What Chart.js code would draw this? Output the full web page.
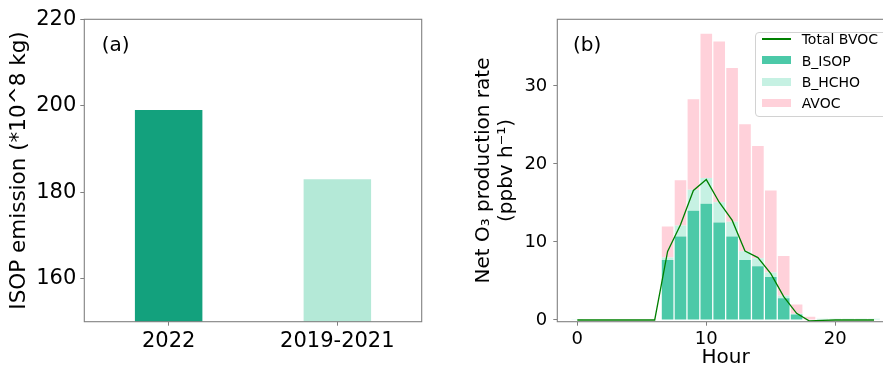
<!DOCTYPE html>
<html><head><meta charset="utf-8">
<script src="https://cdn.jsdelivr.net/npm/chart.js@4.4.0/dist/chart.umd.min.js"></script>
<style>
html,body{margin:0;padding:0;width:883px;height:369px;overflow:hidden;background:#fff;font-family:"DejaVu Sans",sans-serif;}
canvas{position:absolute;top:0;}
#cA{left:0;}
#cB{left:460px;}
.lbl{position:absolute;font-size:20px;line-height:20px;color:#000;white-space:nowrap;}
#legend{position:absolute;left:755px;top:31.7px;width:150px;height:85px;border:1px solid #d2d2d2;border-radius:4px;background:rgba(255,255,255,0.8);box-sizing:border-box;}
.lg{position:absolute;font-size:14px;line-height:14px;color:#000;white-space:nowrap;}
.hd{position:absolute;left:762px;width:29px;}
</style>
</head><body>
<canvas id="cA" width="460" height="369"></canvas>
<canvas id="cB" width="460" height="369"></canvas>
<div class="lbl" style="left:101.7px;top:33.5px;">(a)</div>
<div class="lbl" style="left:573px;top:33.6px;">(b)</div>
<div id="legend"></div>
<script>
// ---- Panel (a) data ----
const categoriesA = ['2022', '2019-2021'];
const emissionA = [199, 183];
const yTicksA = [160, 180, 200, 220];

// ---- Panel (b) data ----
const hours = [0,1,2,3,4,5,6,7,8,9,10,11,12,13,14,15,16,17,18,19,20,21,22,23];
const bIsop = [0,0,0,0,0,0,0,7.7,10.7,14.0,14.9,12.5,10.7,7.7,6.9,5.5,2.8,0.7,0,0,0,0,0,0];
const bHcho = [0.1,0,0,0,0,0,0,0.3,1.4,2.7,3.3,2.6,1.9,1.1,1.0,0.6,0.3,0.1,0.05,0.15,0.15,0.15,0.15,0.15];
const avoc  = [0,0,0,0,0,0,0,4.0,5.8,11.6,18.5,20.6,19.7,16.3,14.4,10.5,5.1,1.2,0.35,0,0,0,0,0];
const totalBvoc = [0,0,0,0,0,0,0,8.8,12.2,16.6,18.0,15.1,12.8,8.85,8.0,5.95,3.0,0.85,-0.13,-0.05,0,0,0,0];
const xTicksB = [0, 10, 20];
const yTicksB = [0, 10, 20, 30];
const legendLabels = ['Total BVOC', 'B_ISOP', 'B_HCHO', 'AVOC'];

const F = 'DejaVu Sans';
const GRAY = '#808080';
const C = {bar2022:'#13a17d', barClim:'#b4e9d7', isop:'#4cc9a8', hcho:'#c6f1e3', avoc:'#ffd1da', line:'#008000'};

const frame = {id:'frame', afterDatasetsDraw(chart){
  const {ctx, chartArea:a} = chart;
  ctx.save(); ctx.strokeStyle = GRAY; ctx.lineWidth = 1.1;
  ctx.strokeRect(a.left, a.top, a.right - a.left, a.bottom - a.top);
  ctx.restore();
}};

const tickGrid = {display:true, drawOnChartArea:false, drawTicks:true, tickLength:4, color:GRAY, offset:false};

new Chart(document.getElementById('cA'), {
  type:'bar',
  data:{labels:categoriesA, datasets:[{data:emissionA, backgroundColor:[C.bar2022, C.barClim], barPercentage:0.4, categoryPercentage:1}]},
  options:{responsive:false, animation:false, devicePixelRatio:1,
    layout:{padding:{top:19.3, right:38.3, bottom:0, left:0}},
    plugins:{legend:{display:false}, tooltip:{enabled:false}},
    scales:{
      x:{offset:true, grid:tickGrid, border:{display:false},
         ticks:{font:{family:F, size:21}, color:'#000', padding:3, maxRotation:0},
         afterFit(s){ s.height = 47.3; }},
      y:{min:150, max:220, grid:tickGrid, border:{display:false},
         afterBuildTicks(s){ s.ticks = yTicksA.map(v => ({value:v})); },
         ticks:{font:{family:F, size:21}, color:'#000', padding:4},
         title:{display:true, text:'ISOP emission (*10^8 kg)', font:{family:F, size:21.5, lineHeight:1}, color:'#000', padding:{top:8.5, bottom:0}},
         afterFit(s){ s.width = 84.3; }}
    }},
  plugins:[frame]
});

const pts = arr => hours.map((h, i) => ({x:h, y:arr[i]}));

new Chart(document.getElementById('cB'), {
  type:'bar',
  data:{datasets:[
    {type:'line', label:legendLabels[0], data:pts(totalBvoc), borderColor:C.line, borderWidth:1.3, pointRadius:0, tension:0, fill:false, order:0, stack:'line'},
    {label:legendLabels[1], data:pts(bIsop), backgroundColor:C.isop, order:1, stack:'s', barPercentage:0.9, categoryPercentage:1},
    {label:legendLabels[2], data:pts(bHcho), backgroundColor:C.hcho, order:1, stack:'s', barPercentage:0.9, categoryPercentage:1},
    {label:legendLabels[3], data:pts(avoc), backgroundColor:C.avoc, order:1, stack:'s', barPercentage:0.9, categoryPercentage:1}
  ]},
  options:{responsive:false, animation:false, devicePixelRatio:1,
    layout:{padding:{top:19.3, right:26, bottom:0, left:0}},
    plugins:{legend:{display:false}, tooltip:{enabled:false}},
    scales:{
      x:{type:'linear', min:-1.55, max:24.55, offset:false, grid:tickGrid, border:{display:false},
         afterBuildTicks(s){ s.ticks = xTicksB.map(v => ({value:v})); },
         ticks:{font:{family:F, size:18}, color:'#000', padding:3, maxRotation:0},
         title:{display:true, text:'Hour', font:{family:F, size:20, lineHeight:1}, color:'#000', padding:{top:0, bottom:1}},
         afterFit(s){ s.height = 47.3; }},
      y:{stacked:true, min:-0.22, max:38.55, grid:tickGrid, border:{display:false},
         afterBuildTicks(s){ s.ticks = yTicksB.map(v => ({value:v})); },
         ticks:{font:{family:F, size:18}, color:'#000', padding:6},
         title:{display:true, text:['Net O\u2083 production rate', '(ppbv h\u207B\u00B9)'], font:{family:F, size:20, lineHeight:1.15}, color:'#000', padding:{top:12.5, bottom:0}},
         afterFit(s){ s.width = 97.3; }}
    }},
  plugins:[frame]
});

// HTML legend (panel b)
const handles = [
  {kind:'line', color:C.line},
  {kind:'patch', color:C.isop},
  {kind:'patch', color:C.hcho},
  {kind:'patch', color:C.avoc}
];
legendLabels.forEach((t, i) => {
  const yc = 39 + i * 21.45;
  const h = document.createElement('div');
  h.className = 'hd';
  if (handles[i].kind === 'line') { h.style.top = (yc - 0.75) + 'px'; h.style.height = '1.5px'; }
  else { h.style.top = (yc - 4) + 'px'; h.style.height = '8px'; }
  h.style.background = handles[i].color;
  document.body.appendChild(h);
  const l = document.createElement('div');
  l.className = 'lg';
  l.style.left = '801.7px';
  l.style.top = (yc - 6.9) + 'px';
  l.textContent = t;
  document.body.appendChild(l);
});
</script>
</body></html>
